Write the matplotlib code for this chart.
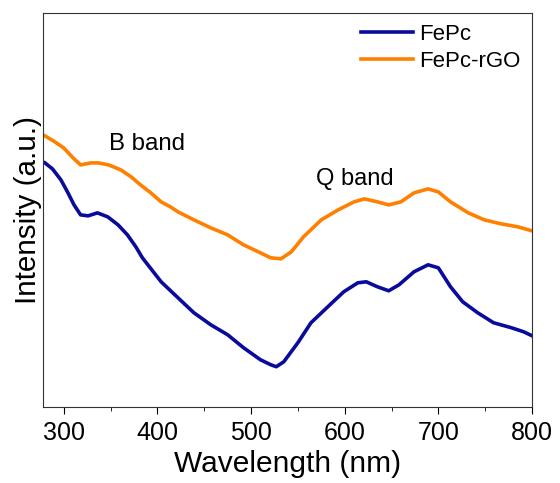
import numpy as np
import matplotlib
matplotlib.use('Agg')
import matplotlib.pyplot as plt
from matplotlib.ticker import MultipleLocator

plt.rcParams['font.family'] = ['Liberation Sans', 'DejaVu Sans']

# UV-vis spectra (arbitrary intensity units)
wl_fepc = [280, 288, 297, 304, 311, 318, 326, 336, 347, 358, 368, 377, 384, 404, 422,
           439, 457, 475, 492, 510, 521, 527, 535, 550, 564, 582, 599, 614, 623, 635,
           647, 658, 674, 689, 700, 713, 726, 742, 759, 778, 791, 800]
int_fepc = [244, 238, 227, 215, 202, 192, 191, 194, 190, 182, 172, 160, 149, 125, 109,
            94, 82, 72, 59, 47, 42, 40, 45, 64, 84, 100, 115, 124, 125, 120,
            116, 122, 135, 142, 139, 120, 105, 94, 84, 79, 75, 71]

wl_rgo = [280, 289, 300, 310, 318, 329, 337, 348, 361, 372, 382, 393, 404, 414, 422,
          439, 457, 475, 492, 510, 521, 532, 543, 556, 575, 593, 610, 621, 635, 647,
          660, 674, 689, 700, 713, 732, 749, 767, 785, 800]
int_rgo = [271, 266, 259, 249, 242, 244, 244, 242, 237, 230, 222, 214, 205, 200, 195,
           187, 179, 172, 162, 154, 149, 148, 155, 170, 187, 197, 205, 208, 205, 202,
           205, 214, 218, 215, 205, 194, 187, 183, 180, 176]

fig = plt.figure(figsize=(5.6, 4.83), dpi=100)
ax = fig.add_axes([0.077, 0.158, 0.873, 0.815])

ax.plot(wl_fepc, int_fepc, color='#0a0a9c', lw=2.6, label='FePc')
ax.plot(wl_rgo, int_rgo, color='#ff8000', lw=2.6, label='FePc-rGO')

ax.set_xlim(278, 800)
ax.set_ylim(0, 394)
ax.xaxis.set_major_locator(MultipleLocator(100))
ax.xaxis.set_minor_locator(MultipleLocator(50))
ax.tick_params(axis='x', which='major', direction='out', length=5, labelsize=18, pad=5)
ax.tick_params(axis='x', which='minor', direction='out', length=3)
ax.set_yticks([])
for s in ax.spines.values():
    s.set_color('#333333')

ax.set_xlabel('Wavelength (nm)', fontsize=21.5, labelpad=4)
ax.set_ylabel('Intensity (a.u.)', fontsize=21.3, labelpad=1)

ax.text(348, 257, 'B band', fontsize=17.3)
ax.text(569, 222, 'Q band', fontsize=17)

ax.legend(loc='upper right', frameon=False, fontsize=16, handlelength=2.35,
          handletextpad=0.3, labelspacing=0.25, borderaxespad=0.1)

plt.savefig('out.png', dpi=100)
